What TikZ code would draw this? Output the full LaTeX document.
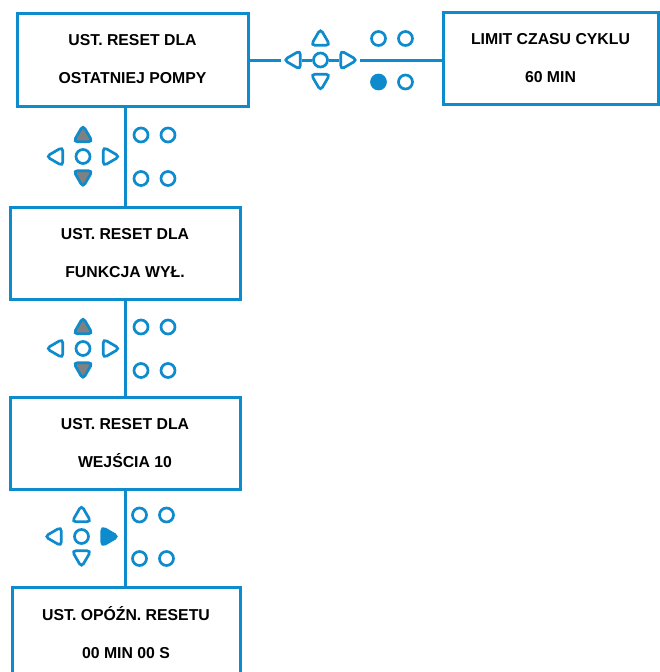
\documentclass[tikz,border=0pt]{standalone}
\usepackage{fontspec}
\setmainfont{Liberation Sans}
\usetikzlibrary{shapes.geometric}
\definecolor{keyblue}{RGB}{14,139,204}
\definecolor{keygrey}{RGB}{128,128,128}

% one set of keys: name, centre x, centre y, up, down, right, dot
\newcommand{\keypad}[7]{%
    \node[keyc] (#1c) at (#2,#3) {};
    \node[keytri, shape border rotate=0, #4] (#1u) at (#2,#3-20.2) {};
    \node[keytri, shape border rotate=180, #5] (#1d) at (#2,#3+19.7) {};
    \node[keytri, shape border rotate=90] (#1l) at (#2-25.7,#3) {};
    \node[keytri, shape border rotate=270, #6] (#1r) at (#2+25.7,#3) {};
    \node[keyc] (#1a) at (#2+58,#3-21.5) {};
    \node[keyc] (#1b) at (#2+85,#3-21.5) {};
    \node[keyc, #7] (#1e) at (#2+58,#3+22) {};
    \node[keyc] (#1f) at (#2+85,#3+22) {};
}

\begin{document}
\begin{tikzpicture}[
    x=1pt, y=-1pt,
    screen/.style={rectangle, draw=keyblue, line width=3pt, inner sep=0pt,
        minimum width=230pt, minimum height=92pt, align=center,
        font=\fontsize{15.8}{38}\selectfont\bfseries},
    keyc/.style={circle, draw=keyblue, line width=2.7pt, minimum size=14pt, inner sep=0pt},
    keytri/.style={regular polygon, regular polygon sides=3, draw=keyblue,
        line width=2.7pt, rounded corners=4pt, minimum size=22pt, inner sep=0pt},
    pressed/.style={fill=keygrey},
    lit/.style={fill=keyblue},
    link/.style={draw=keyblue, line width=3pt}
]
    \clip (0,0) rectangle (660,672);

    % ekrany
    \node[screen, minimum width=231pt, minimum height=93pt] (last) at (132.5,59.5)
        {UST. RESET DLA\\OSTATNIEJ POMPY};
    \node[screen, minimum width=215pt] (limit) at (550.5,58)
        {LIMIT CZASU CYKLU\\60 MIN};
    \node[screen] (func) at (125,253) {UST. RESET DLA\\FUNKCJA WYŁ.};
    \node[screen] (input) at (125,443) {UST. RESET DLA\\WEJŚCIA 10};
    \node[screen, minimum width=228pt] (delay) at (126,633)
        {UST. OPÓŹN. RESETU\\00 MIN 00 S};

    % klawisze
    \keypad{h}{320.5}{60}{}{}{}{lit}
    \keypad{p}{83}{156.5}{pressed}{pressed}{}{}
    \keypad{q}{83}{348.5}{pressed}{pressed}{}{}
    \keypad{s}{81.5}{536.5}{}{}{lit}{}

    % połączenia
    \draw[link] (last.east |- hl.west) -- (hl.west);
    \draw[link] (hl.east) -- (hc.west);
    \draw[link] (hc.east) -- (hr.west);
    \draw[link] (hr.east) -- (hr.east -| limit.west);
    \draw[link] (func.north |- last.south) -- (func.north);
    \draw[link] (func.south) -- (input.north);
    \draw[link] (input.south) -- (input.south |- delay.north);
\end{tikzpicture}
\end{document}
